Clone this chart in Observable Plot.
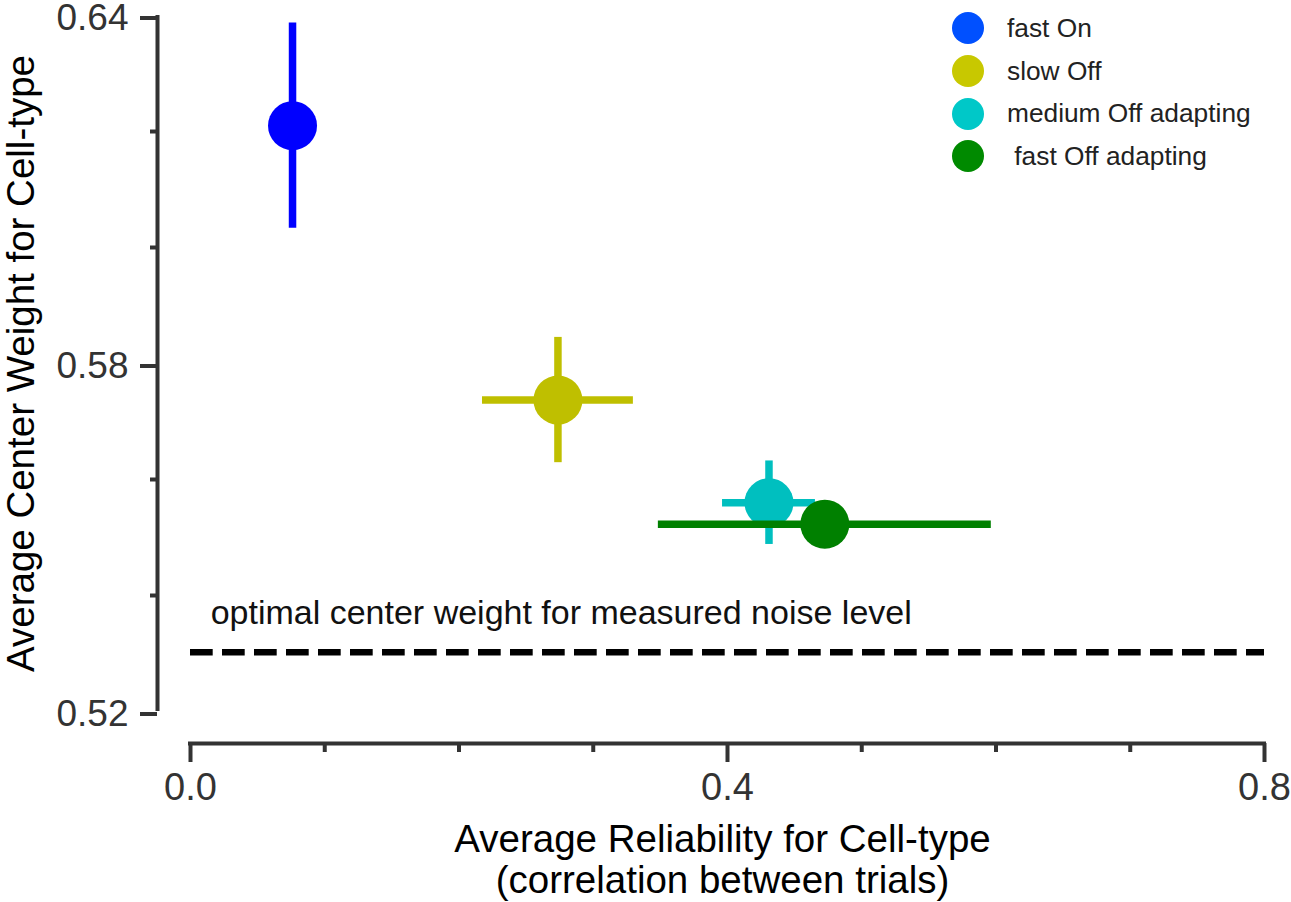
<!DOCTYPE html>
<html>
<head>
<meta charset="utf-8">
<script src="https://cdn.jsdelivr.net/npm/d3@7"></script>
<script src="https://cdn.jsdelivr.net/npm/@observablehq/plot@0.6"></script>
<style>
  html, body { margin: 0; padding: 0; background: #fff; }
  body { font-family: "Liberation Sans", Arial, sans-serif; }
  #chart { position: relative; width: 1291px; height: 902px; }
  #legend { position: absolute; left: 952px; top: 7px; }
  .row { display: flex; align-items: center; height: 42.7px; white-space: pre; }
  .swatch { width: 32px; height: 32px; border-radius: 50%; margin-right: 23px; }
  .row span { font-size: 26.3px; color: #222; }
</style>
</head>
<body>
<div id="chart"><div id="legend"></div></div>
<script>
// Cell types and their mean reliability / center weight with error half-widths
const cellTypes = ["fast On", "slow Off", "medium Off adapting", " fast Off adapting"];
const reliability = [0.076, 0.2737, 0.4309, 0.4725];
const reliabilityErr = [0.008, 0.0562, 0.0346, 0.1240];
const centerWeight = [0.6210, 0.5737, 0.5560, 0.5523];
const centerWeightErr = [0.0177, 0.0108, 0.0072, 0.002];
const dotColors = ["#0000ff", "#bfbf00", "#00bfbf", "#008000"];
const legendColors = ["#0050ff", "#c8c800", "#00c8c8", "#008a00"];

// Reference level: optimal center weight for the measured noise
const optimalWeight = 0.5302;
const optimalLabel = "optimal center weight for measured noise level";

// Axes
const xDomain = [0, 0.8];
const yDomain = [0.52, 0.64];
const xTicks = [0, 0.4, 0.8];
const xMinorTicks = [0.1, 0.2, 0.3, 0.5, 0.6, 0.7];
const yTicks = [0.52, 0.58, 0.64];
const yMinorTicks = [0.54, 0.56, 0.60, 0.62];
const xLabel = "Average Reliability for Cell-type\n(correlation between trials)";
const yLabel = "Average Center Weight for Cell-type";

const rows = cellTypes.map((name, i) => ({
  name,
  x: reliability[i],
  xLo: reliability[i] - reliabilityErr[i],
  xHi: reliability[i] + reliabilityErr[i],
  y: centerWeight[i],
  yLo: centerWeight[i] - centerWeightErr[i],
  yHi: centerWeight[i] + centerWeightErr[i],
  color: dotColors[i]
}));

const axisColor = "#333";
const axisWidth = 4;
const barWidth = 7.5;

// Each cell type draws its error bars and then its dot, in order
const pointMarks = rows.flatMap(r => [
  Plot.ruleY([r], {y: "y", x1: "xLo", x2: "xHi", stroke: r.color, strokeWidth: barWidth}),
  Plot.ruleX([r], {x: "x", y1: "yLo", y2: "yHi", stroke: r.color, strokeWidth: barWidth}),
  Plot.dot([r], {x: "x", y: "y", r: 24.5, fill: r.color, stroke: null})
]);

const chart = Plot.plot({
  width: 1291,
  height: 902,
  marginLeft: 157,
  marginTop: 15,
  marginRight: 27,
  marginBottom: 159,
  style: {fontFamily: "'Liberation Sans', Arial, sans-serif", background: "#fff", color: "#000", overflow: "visible"},
  x: {domain: xDomain, range: [190, 1264]},
  y: {domain: yDomain, range: [711, 15]},
  marks: [
    // axis spines, offset from the data area
    Plot.ruleX([xDomain[0]], {y1: yDomain[0], y2: yDomain[1], dx: -33, stroke: axisColor, strokeWidth: axisWidth}),
    Plot.ruleY([yDomain[0]], {x1: xDomain[0], x2: xDomain[1], dy: 32, stroke: axisColor, strokeWidth: axisWidth, strokeLinecap: "square"}),
    Plot.axisY({ticks: yTicks, tickSize: 17, tickPadding: 12, tickFormat: d3.format(".2f"), dy: 2.5,
      fontSize: 37, color: axisColor, strokeWidth: axisWidth, label: null}),
    Plot.axisY({ticks: yMinorTicks, tickSize: 7, tickFormat: () => "", color: axisColor, strokeWidth: axisWidth, label: null}),
    Plot.axisX({ticks: xTicks, tickSize: 19, tickPadding: 11, tickFormat: d3.format(".1f"),
      fontSize: 38, color: axisColor, strokeWidth: axisWidth, label: null}),
    Plot.axisX({ticks: xMinorTicks, tickSize: 9, tickFormat: () => "", color: axisColor, strokeWidth: axisWidth, label: null}),
    // axis titles
    Plot.text([yLabel], {y: [d3.mean(yDomain)], frameAnchor: "left", dx: -136, rotate: -90,
      fontSize: 38.5, fill: "#000", textAnchor: "middle", lineAnchor: "middle"}),
    Plot.text([xLabel], {x: [d3.mean(xDomain)], frameAnchor: "bottom", dx: -5, dy: 80,
      fontSize: 38.5, fill: "#000", lineAnchor: "top", lineHeight: 1.05}),
    // optimal level
    Plot.ruleY([optimalWeight], {x1: xDomain[0], x2: xDomain[1], stroke: "#000", strokeWidth: 6.5, strokeDasharray: "22.7 9.3"}),
    Plot.text([optimalLabel], {x: [0.015], y: [optimalWeight], dy: -39, textAnchor: "start",
      lineAnchor: "middle", fontSize: 34, fill: "#111"}),
    ...pointMarks
  ]
});

const container = document.getElementById("chart");
container.insertBefore(chart, container.firstChild);

// Legend
const legend = d3.select("#legend");
cellTypes.forEach((name, i) => {
  const row = legend.append("div").attr("class", "row");
  row.append("div").attr("class", "swatch").style("background", legendColors[i]);
  row.append("span").text(name);
});
</script>
</body>
</html>
